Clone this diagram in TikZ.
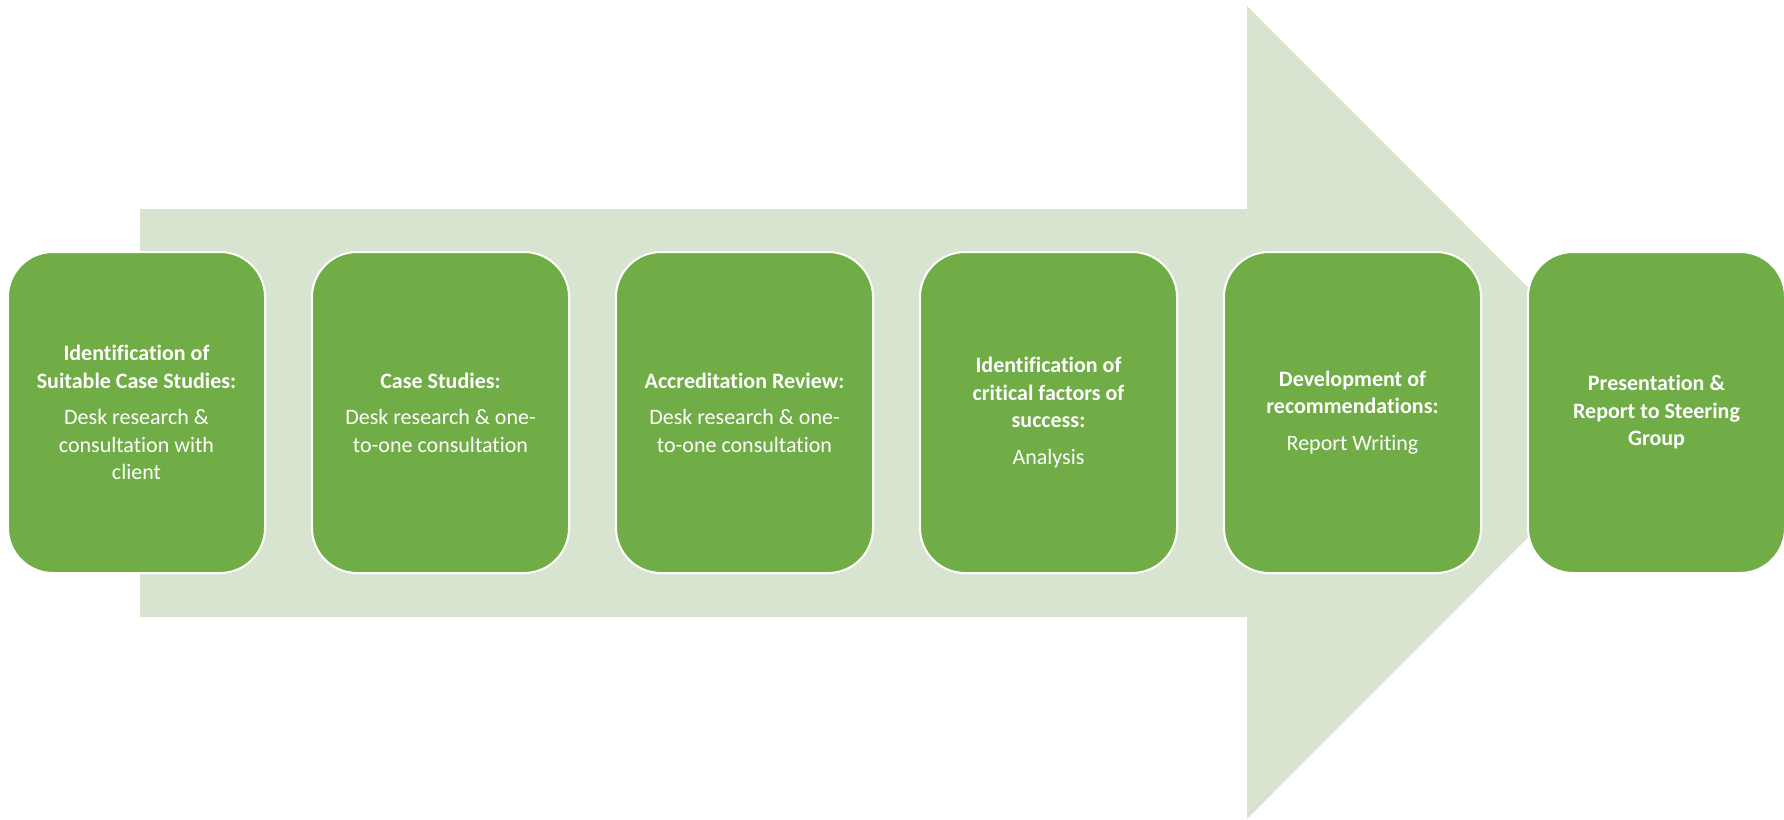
\documentclass[tikz,border=0pt]{standalone}
\usepackage{fontspec}
\setmainfont{Carlito}[Ligatures=NoCommon]
\definecolor{boxgreen}{HTML}{70AD47}
\definecolor{arrowgreen}{HTML}{D8E4D0}
\tikzset{
  stage/.style={draw=white, line width=2pt, fill=boxgreen, rounded corners=45pt,
    minimum width=257pt, minimum height=321pt, inner sep=0pt,
    text=white, align=center, font=\fontsize{22}{27.5}\selectfont},
  bigarrow/.style={fill=arrowgreen}
}
\begin{document}
\begin{tikzpicture}[x=1pt,y=-1pt]
\useasboundingbox (0,0) rectangle (1784,819);
\fill[bigarrow] (140,209) -- (1247,209) -- (1247,6) -- (1653,412.5) -- (1247,819) -- (1247,617) -- (140,617) -- cycle;
\node[stage] (s1) at (136.5,412.5) {\textbf{Identification of}\\\textbf{Suitable Case Studies:}\\[9pt]Desk research \&\\consultation with\\client};
\node[stage] (s2) at (440.5,412.5) {\textbf{Case Studies:}\\[9pt]Desk research \& one-\\to-one consultation};
\node[stage] (s3) at (744.5,412.5) {\textbf{Accreditation Review:}\\[9pt]Desk research \& one-\\to-one consultation};
\node[stage] (s4) at (1048.5,412.5) {\textbf{Identification of}\\\textbf{critical factors of}\\\textbf{success:}\\[9pt]Analysis};
\node[stage] (s5) at (1352.5,412.5) {\textbf{Development of}\\\textbf{recommendations:}\\[9pt]Report Writing};
\node[stage] (s6) at (1656.5,412.5) {\textbf{Presentation \&}\\\textbf{Report to Steering}\\\textbf{Group}};
\end{tikzpicture}
\end{document}
